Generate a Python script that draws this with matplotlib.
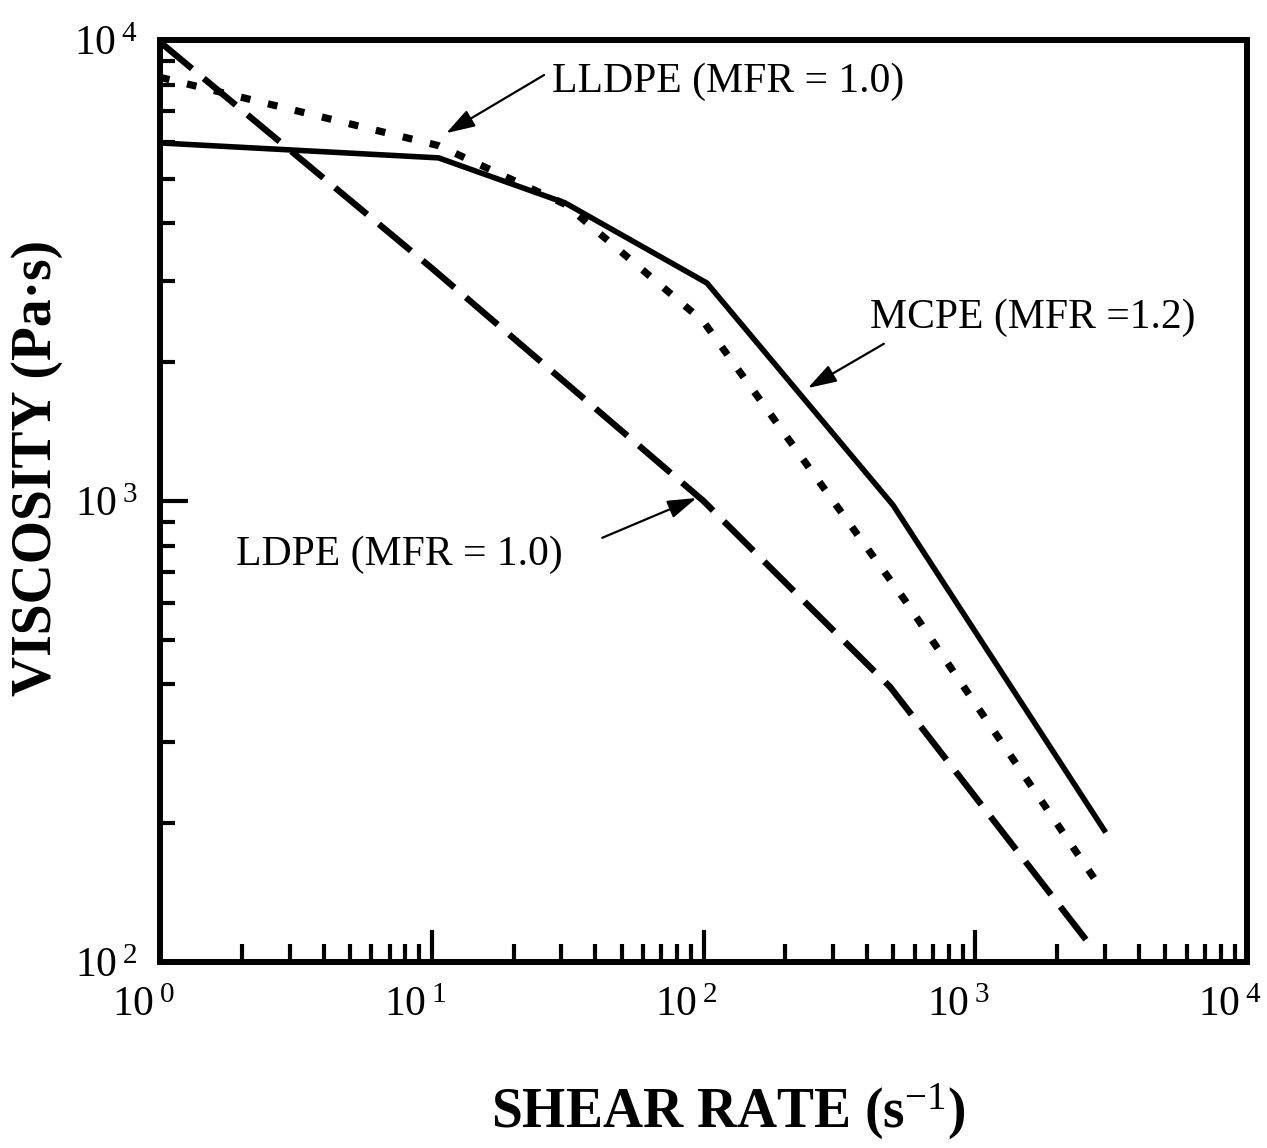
import matplotlib
matplotlib.use("Agg")
import matplotlib.pyplot as plt
import matplotlib.transforms as mtransforms
from matplotlib.ticker import LogLocator, FixedLocator, FixedFormatter, NullFormatter

plt.rcParams['font.family'] = ['Liberation Serif', 'DejaVu Serif']
plt.rcParams['mathtext.fontset'] = 'custom'
plt.rcParams['mathtext.rm'] = 'Liberation Serif'
plt.rcParams['mathtext.it'] = 'Liberation Serif:italic'
plt.rcParams['mathtext.bf'] = 'Liberation Serif:bold'
plt.rcParams['lines.scale_dashes'] = False

# ---- data (shear rate in 1/s, viscosity in Pa·s) ----
mcpe_rate = [1, 10.6, 31, 103, 498, 3020]
mcpe_visc = [5980, 5550, 4430, 2970, 980, 191]

lldpe_rate = [1, 10.6, 31, 100, 550, 2890]
lldpe_visc = [8300, 5900, 4400, 2450, 610, 145]

ldpe_rate = [1, 10, 100, 486, 2610]
ldpe_visc = [9900, 3200, 1000, 395, 110]

xtick_vals = [1, 10, 100, 1000, 10000]
xtick_labels = [r'$\mathrm{10}^{\;\mathrm{0}}$', r'$\mathrm{10}^{\;\mathrm{1}}$',
                r'$\mathrm{10}^{\;\mathrm{2}}$', r'$\mathrm{10}^{\;\mathrm{3}}$',
                r'$\mathrm{10}^{\;\mathrm{4}}$']
ytick_vals = [100, 1000, 10000]
ytick_labels = [r'$\mathrm{10}^{\;\mathrm{2}}$', r'$\mathrm{10}^{\;\mathrm{3}}$',
                r'$\mathrm{10}^{\;\mathrm{4}}$']

lbl_lldpe = "LLDPE (MFR = 1.0)"
lbl_mcpe = "MCPE (MFR =1.2)"
lbl_ldpe = "LDPE (MFR = 1.0)"

fig = plt.figure(figsize=(12.67, 11.48), dpi=100)
ax = fig.add_axes([160/1267, 1-962/1148, (1247-160)/1267, (962-40)/1148])
ax.set_xscale('log')
ax.set_yscale('log')
ax.set_xlim(1, 10000)
ax.set_ylim(100, 10000)

ax.plot(mcpe_rate, mcpe_visc, color='black', lw=4.0, solid_capstyle='butt',
        solid_joinstyle='round')
ax.plot(lldpe_rate, lldpe_visc, color='black', lw=5.2, dashes=(7, 13),
        dash_capstyle='butt')
ax.plot(ldpe_rate, ldpe_visc, color='black', lw=4.6, dashes=(30, 11),
        dash_capstyle='butt')

for s in ax.spines.values():
    s.set_linewidth(4.3)

ax.xaxis.set_major_locator(FixedLocator(xtick_vals))
ax.xaxis.set_major_formatter(FixedFormatter(xtick_labels))
ax.yaxis.set_major_locator(FixedLocator(ytick_vals))
ax.yaxis.set_major_formatter(FixedFormatter(ytick_labels))
ax.xaxis.set_minor_locator(LogLocator(base=10, subs=range(2, 10)))
ax.yaxis.set_minor_locator(LogLocator(base=10, subs=range(2, 10)))
ax.xaxis.set_minor_formatter(NullFormatter())
ax.yaxis.set_minor_formatter(NullFormatter())

ax.tick_params(which='both', direction='in', top=False, right=False,
               width=3.0, labelsize=30)
ax.tick_params(axis='x', which='major', length=23, pad=18)
ax.tick_params(axis='x', which='minor', length=13)
ax.tick_params(axis='y', which='major', length=20, pad=16)
ax.tick_params(axis='y', which='minor', length=11)

offset = mtransforms.ScaledTranslation(-12/72, 0, fig.dpi_scale_trans)
for lab in ax.get_xticklabels():
    lab.set_transform(lab.get_transform() + offset)

fs_ann = 30
arrow_kw = dict(arrowstyle='-|>,head_length=1.1,head_width=0.35',
                color='black', lw=1.6, mutation_scale=16,
                shrinkA=0, shrinkB=0)

ax.text(27.7, 8110, lbl_lldpe, fontsize=fs_ann, ha='left', va='center')
ax.annotate('', xy=(11.3, 6280), xytext=(25.9, 8395), arrowprops=arrow_kw)

ax.text(410, 2495, lbl_mcpe, fontsize=fs_ann, ha='left', va='center')
ax.annotate('', xy=(242, 1758), xytext=(461, 2193), arrowprops=arrow_kw)

ax.text(1.91, 764, lbl_ldpe, fontsize=fs_ann, ha='left', va='center')
ax.annotate('', xy=(94.2, 1015), xytext=(42.4, 832), arrowprops=arrow_kw)

fig.text(37/1267, 1-468/1148, 'VISCOSITY (Pa\u00b7s)', rotation=90,
         fontsize=40, fontweight='bold', ha='center', va='center')
fig.text(728/1267, 1-1112/1148, r'SHEAR RATE (s$^{\mathrm{-1}}$)',
         fontsize=40, fontweight='bold', ha='center', va='center')

fig.savefig('out.png', dpi=100, facecolor='white')
